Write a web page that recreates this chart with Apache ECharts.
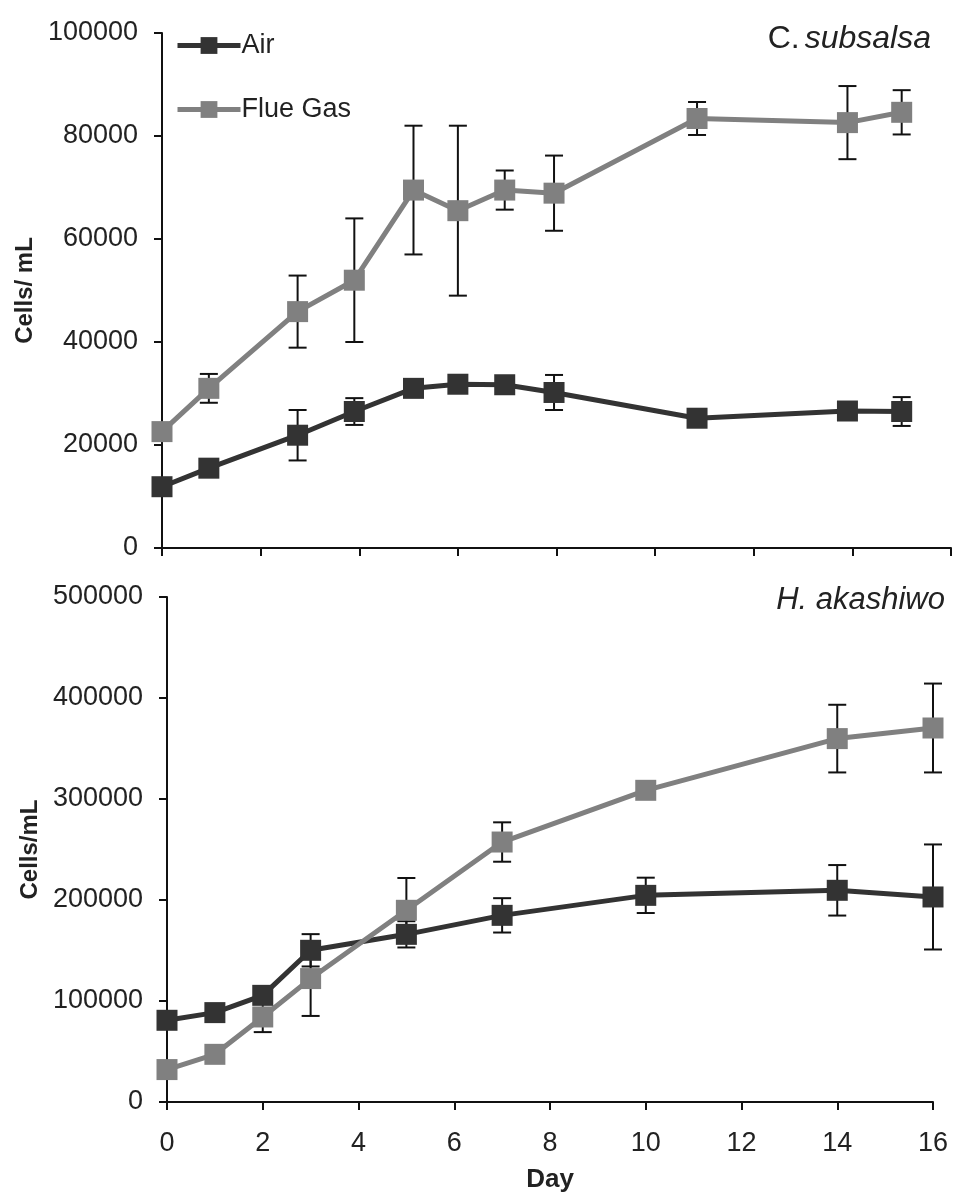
<!DOCTYPE html>
<html>
<head>
<meta charset="utf-8">
<script src="https://cdn.jsdelivr.net/npm/echarts@6/dist/echarts.min.js"></script>
<style>
html,body{margin:0;padding:0;background:#fff;}
#chart{width:956px;height:1197px;}
</style>
</head>
<body>
<div id="chart"></div>
<script>
// ---- Data ----
const seriesNames = ['Air', 'Flue Gas'];

// Top panel: C. subsalsa
const topDays    = [0, 0.95, 2.75, 3.9, 5.1, 6, 6.95, 7.95, 10.85, 13.9, 15];
const topAir     = [11900, 15500, 21900, 26500, 31000, 31800, 31700, 30200, 25200, 26600, 26500];
const topAirErr  = [800, 800, 4900, 2600, 800, 800, 800, 3400, 900, 800, 2800];
const topFlue    = [22600, 31000, 45900, 52000, 69500, 65500, 69500, 68900, 83400, 82600, 84600];
const topFlueErr = [800, 2800, 7000, 12000, 12500, 16500, 3800, 7300, 3200, 7100, 4300];

// Bottom panel: H. akashiwo
const botDays    = [0, 1, 2, 3, 5, 7, 10, 14, 16];
const botAir     = [80900, 88500, 105600, 150200, 166000, 184800, 204600, 209600, 203000];
const botAirErr  = [3000, 3000, 3000, 16000, 13000, 17000, 17500, 25000, 52000];
const botFlue    = [32100, 47200, 84200, 122200, 189800, 257400, 308600, 359800, 370300];
const botFlueErr = [3000, 3000, 15000, 37000, 32000, 19500, 5000, 33500, 44000];

const topYTicks = [0, 20000, 40000, 60000, 80000, 100000];
const botYTicks = [0, 100000, 200000, 300000, 400000, 500000];
const xTicks    = [0, 2, 4, 6, 8, 10, 12, 14, 16];

// ---- Styles ----
const FONT = '"Liberation Sans", Arial, sans-serif';
const AIR_COLOR = '#333333';
const FLUE_COLOR = '#808080';

function pairs(xs, ys) { return xs.map((x, i) => [x, ys[i]]); }
function errData(xs, ys, es) { return xs.map((x, i) => [x, ys[i] - es[i], ys[i] + es[i]]); }

function errorSeries(name, xi, yi, data) {
  return {
    name: name + ' err',
    type: 'custom',
    xAxisIndex: xi, yAxisIndex: yi,
    z: 1,
    silent: true,
    data: data,
    renderItem: function (params, api) {
      const x = api.value(0);
      const lo = api.coord([x, api.value(1)]);
      const hi = api.coord([x, api.value(2)]);
      const cap = 9;
      const st = { stroke: '#111', lineWidth: 2 };
      return {
        type: 'group',
        children: [
          { type: 'line', shape: { x1: lo[0], y1: lo[1], x2: hi[0], y2: hi[1] }, style: st },
          { type: 'line', shape: { x1: lo[0] - cap, y1: lo[1], x2: lo[0] + cap, y2: lo[1] }, style: st },
          { type: 'line', shape: { x1: hi[0] - cap, y1: hi[1], x2: hi[0] + cap, y2: hi[1] }, style: st }
        ]
      };
    }
  };
}

function lineSeries(name, xi, yi, data, color) {
  return {
    name: name,
    type: 'line',
    xAxisIndex: xi, yAxisIndex: yi,
    z: 3,
    data: data,
    symbol: 'rect',
    symbolSize: 21,
    lineStyle: { color: color, width: 5 },
    itemStyle: { color: color },
    emphasis: { disabled: true },
    animation: false
  };
}

const axisLineStyle = { show: true, lineStyle: { color: '#111', width: 2 } };
const tickStyle = { show: true, inside: false, length: 8, lineStyle: { color: '#111', width: 2 } };
const labelStyle = { color: '#222', fontFamily: FONT, fontSize: 27 };

const chart = echarts.init(document.getElementById('chart'), null, { renderer: 'canvas' });

const option = {
  backgroundColor: '#ffffff',
  animation: false,
  grid: [
    { left: 162, right: 5, top: 33, height: 515 },
    { left: 167, right: 23, top: 597, height: 505 }
  ],
  legend: {
    data: seriesNames,
    orient: 'vertical',
    left: 175,
    top: 32,
    padding: 0,
    itemWidth: 63,
    itemHeight: 21,
    itemGap: 37,
    lineStyle: { width: 5 },
    textStyle: { fontFamily: FONT, fontSize: 27, color: '#222', padding: [0, 0, 0, -4] },
    selectedMode: false
  },
  title: [
    {
      text: '{u|C.} {i|subsalsa}',
      right: 20, top: 18,
      textStyle: { fontWeight: 'normal', rich: {
        u: { fontFamily: FONT, fontSize: 32, color: '#222', fontWeight: 'normal' },
        i: { fontFamily: FONT, fontSize: 32, color: '#222', fontStyle: 'italic', fontWeight: 'normal' }
      } }
    },
    {
      text: 'H. akashiwo',
      right: 6, top: 580,
      textStyle: { fontFamily: FONT, fontSize: 31, color: '#222', fontStyle: 'italic', fontWeight: 'normal' }
    }
  ],
  xAxis: [
    {
      gridIndex: 0, type: 'value', min: 0, max: 16, interval: 2,
      axisLine: axisLineStyle, axisTick: tickStyle,
      axisLabel: { show: false }, splitLine: { show: false }
    },
    {
      gridIndex: 1, type: 'value', min: 0, max: 16, interval: 2,
      axisLine: axisLineStyle, axisTick: tickStyle,
      axisLabel: Object.assign({ margin: 28, formatter: v => xTicks.includes(v) ? String(v) : '' }, labelStyle),
      splitLine: { show: false },
      name: 'Day', nameLocation: 'middle', nameGap: 65,
      nameTextStyle: { fontFamily: FONT, fontSize: 26, fontWeight: 'bold', color: '#222' }
    }
  ],
  yAxis: [
    {
      gridIndex: 0, type: 'value', min: topYTicks[0], max: topYTicks[topYTicks.length - 1], interval: 20000,
      axisLine: axisLineStyle, axisTick: tickStyle,
      axisLabel: Object.assign({ margin: 24, formatter: v => String(v) }, labelStyle),
      splitLine: { show: false },
      name: 'Cells/ mL', nameLocation: 'middle', nameRotate: 90, nameGap: 113,
      nameTextStyle: { fontFamily: FONT, fontSize: 24, fontWeight: 'bold', color: '#222' }
    },
    {
      gridIndex: 1, type: 'value', min: botYTicks[0], max: botYTicks[botYTicks.length - 1], interval: 100000,
      axisLine: axisLineStyle, axisTick: tickStyle,
      axisLabel: Object.assign({ margin: 24, formatter: v => String(v) }, labelStyle),
      splitLine: { show: false },
      name: 'Cells/mL', nameLocation: 'middle', nameRotate: 90, nameGap: 118,
      nameTextStyle: { fontFamily: FONT, fontSize: 24, fontWeight: 'bold', color: '#222' }
    }
  ],
  series: [
    errorSeries('Air', 0, 0, errData(topDays, topAir, topAirErr)),
    errorSeries('Flue Gas', 0, 0, errData(topDays, topFlue, topFlueErr)),
    errorSeries('Air', 1, 1, errData(botDays, botAir, botAirErr)),
    errorSeries('Flue Gas', 1, 1, errData(botDays, botFlue, botFlueErr)),
    lineSeries('Air', 0, 0, pairs(topDays, topAir), AIR_COLOR),
    lineSeries('Flue Gas', 0, 0, pairs(topDays, topFlue), FLUE_COLOR),
    lineSeries('Air', 1, 1, pairs(botDays, botAir), AIR_COLOR),
    lineSeries('Flue Gas', 1, 1, pairs(botDays, botFlue), FLUE_COLOR)
  ]
};
chart.setOption(option);
</script>
</body>
</html>
